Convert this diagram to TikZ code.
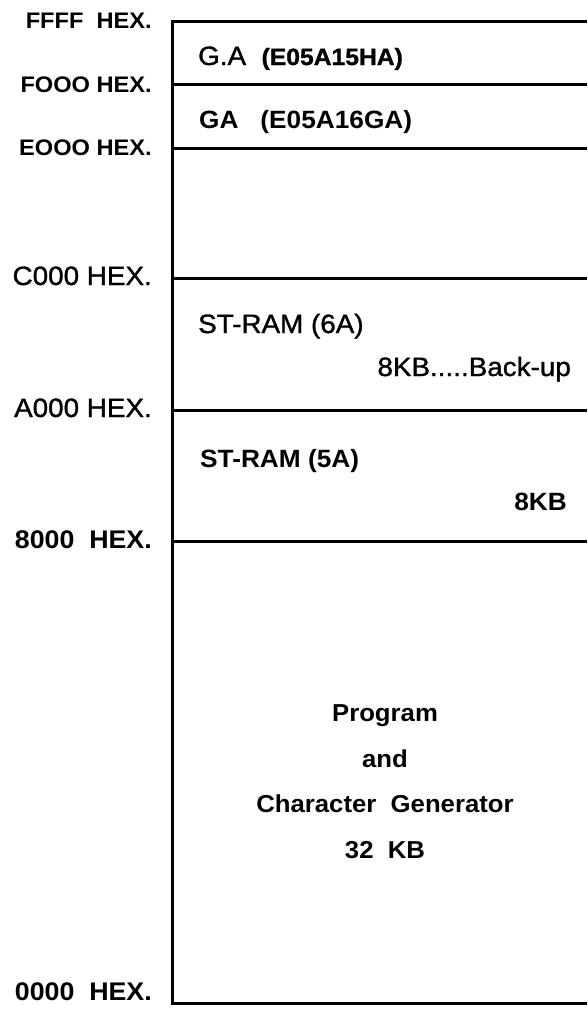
\documentclass[tikz,border=0pt]{standalone}
\usepackage{fontspec}
\setmainfont{Liberation Sans}[FakeStretch=1.05]
\newfontfamily\medfont{Liberation Sans}[FakeStretch=1.05, FakeBold=1.2]
\usetikzlibrary{positioning}

\begin{document}
\begin{tikzpicture}[
    x=1pt, y=-1pt,
    border/.style={line width=3pt},
    addr/.style={anchor=base east, inner sep=0pt, font=\fontsize{22.5}{26}\selectfont\bfseries},
    addrbig/.style={addr, font=\fontsize{25.5}{28}\selectfont\bfseries},
    addrreg/.style={addr, font=\fontsize{26.5}{28}\medfont},
    region/.style={anchor=base west, inner sep=0pt, font=\fontsize{26.5}{28}\medfont},
    regionbf/.style={region, font=\fontsize{25}{28}\selectfont\bfseries},
    info/.style={anchor=base, inner sep=0pt, font=\fontsize{24.5}{28}\selectfont\bfseries}
]
\useasboundingbox (0,0) rectangle (587,1018);

\coordinate (ffff) at (172,21);
\coordinate (f000) at (172,84);
\coordinate (e000) at (172,148);
\coordinate (c000) at (172,278);
\coordinate (a000) at (172,410);
\coordinate (m8000) at (172,541);
\coordinate (m0000) at (172,1003);

\draw[border] (ffff -| 587,0) -- (ffff) -- (m0000) -- (m0000 -| 587,0);
\draw[border] (f000) -- (f000 -| 587,0);
\draw[border] (e000) -- (e000 -| 587,0);
\draw[border] (c000) -- (c000 -| 587,0);
\draw[border] (a000) -- (a000 -| 587,0);
\draw[border] (m8000) -- (m8000 -| 587,0);

\node[addr] (lffff) at (152,28) {FFFF\ \ HEX.};
\node[addr] (lf000) at (152,92) {FOOO HEX.};
\node[addr] (le000) at (152,155) {EOOO HEX.};
\node[addrreg] (lc000) at (152,285) {C000 HEX.};
\node[addrreg] (la000) at (152,417) {A000 HEX.};
\node[addrbig] (l8000) at (152,548) {8000\ \ HEX.};
\node[addrbig] (l0000) at (152,1000) {0000\ \ HEX.};

\node[region] (ga1) at (198,65) {G.A\ \ {\fontsize{23.5}{26}\selectfont\bfseries(E05A15HA)}};
\node[regionbf] (ga2) at (199,128) {GA\ \ \ (E05A16GA)};
\node[region] (ram6) at (198,333) {ST-RAM (6A)};
\node[region, anchor=base east] (bkup) at (571,376) {8KB.....Back-up};
\node[regionbf] (ram5) at (200,467) {ST-RAM (5A)};
\node[regionbf, anchor=base east] (kb5) at (567,510) {8KB};

\node[info] (prog) at (385,721) {Program};
\node[info] (and) at (385,767) {and};
\node[info] (chgen) at (385,812) {Character\ \ Generator};
\node[info] (size) at (385,858) {32\ \ KB};
\end{tikzpicture}
\end{document}
